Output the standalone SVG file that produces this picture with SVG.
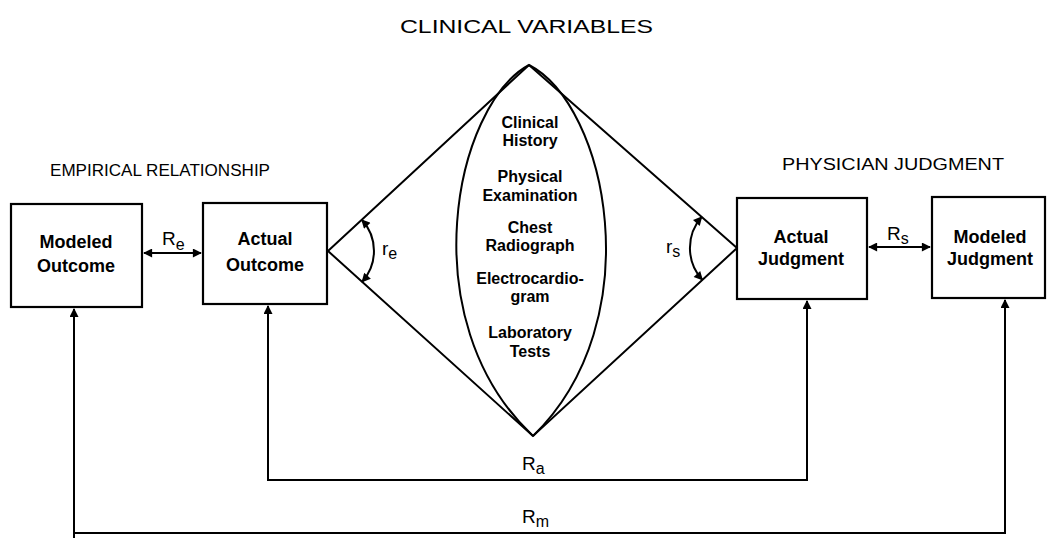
<svg xmlns="http://www.w3.org/2000/svg" width="1052" height="538" viewBox="0 0 1052 538">
<style>
.box{fill:#fff;stroke:#000;stroke-width:2.2}
.ln{fill:none;stroke:#000;stroke-width:2}
.t{font-family:"Liberation Sans",Arial,sans-serif;font-size:18px;font-weight:bold;fill:#000;text-anchor:middle}
.lens{font-size:16px}
.h{font-family:"Liberation Sans",Arial,sans-serif;font-size:16px;fill:#000}
.r{font-family:"Liberation Sans",Arial,sans-serif;font-size:19px;fill:#000}
.sub{font-size:16px}
</style>
<defs>
<marker id="ah" viewBox="0 0 10 10" refX="9" refY="5" markerWidth="11" markerHeight="9" markerUnits="userSpaceOnUse" orient="auto-start-reverse">
<path d="M0,0 L10,5 L0,10 Z" fill="#000"/>
</marker>
</defs>
<rect width="1052" height="538" fill="#fff"/>
<g id="titles">
<text class="h" x="400" y="33" textLength="253" lengthAdjust="spacingAndGlyphs" style="font-size:19px">CLINICAL VARIABLES</text>
<text class="h" x="50" y="176" textLength="220" lengthAdjust="spacingAndGlyphs">EMPIRICAL RELATIONSHIP</text>
<text class="h" x="782" y="170" textLength="222" lengthAdjust="spacingAndGlyphs">PHYSICIAN JUDGMENT</text>
</g>
<g id="clinical-variables">
<path class="ln" d="M529,65 L737,248 L533,436 L328,251 Z"/>
<path class="ln" d="M529,65 C455,105 410,320 533,436 M529,65 C607,105 652,320 533,436"/>
<text class="t lens" x="530" y="128">Clinical</text>
<text class="t lens" x="530" y="146">History</text>
<text class="t lens" x="530" y="182">Physical</text>
<text class="t lens" x="530" y="201">Examination</text>
<text class="t lens" x="530" y="233">Chest</text>
<text class="t lens" x="530" y="251">Radiograph</text>
<text class="t lens" x="530" y="284">Electrocardio-</text>
<text class="t lens" x="530" y="302">gram</text>
<text class="t lens" x="530" y="338">Laboratory</text>
<text class="t lens" x="530" y="357">Tests</text>
</g>
<g id="modeled-outcome">
<rect class="box" x="11" y="204" width="131" height="103"/>
<text class="t" x="76" y="248">Modeled</text>
<text class="t" x="76" y="272">Outcome</text>
</g>
<g id="actual-outcome">
<rect class="box" x="203" y="203" width="124" height="101"/>
<text class="t" x="265" y="245">Actual</text>
<text class="t" x="265" y="271">Outcome</text>
</g>
<g id="actual-judgment">
<rect class="box" x="737" y="198" width="130" height="101"/>
<text class="t" x="801" y="243">Actual</text>
<text class="t" x="801" y="265">Judgment</text>
</g>
<g id="modeled-judgment">
<rect class="box" x="932" y="197" width="113" height="101"/>
<text class="t" x="990" y="243">Modeled</text>
<text class="t" x="990" y="265">Judgment</text>
</g>
<g id="connectors">
<path class="ln" d="M144,253 H201" marker-start="url(#ah)" marker-end="url(#ah)"/>
<path class="ln" d="M869,247 H930" marker-start="url(#ah)" marker-end="url(#ah)"/>
<path class="ln" d="M361.8,219.8 A46,46 0 0 1 362.1,281.8" marker-start="url(#ah)" marker-end="url(#ah)"/>
<path class="ln" d="M701.7,216.9 A47,47 0 0 0 702.4,279.9" marker-start="url(#ah)" marker-end="url(#ah)"/>
<path class="ln" d="M268,306 V480 H807 V301" marker-start="url(#ah)" marker-end="url(#ah)"/>
<path class="ln" d="M74,309 V538 M74,533 H1005 V300" marker-start="url(#ah)" marker-end="url(#ah)"/>
</g>
<g id="labels">
<text class="r" x="162" y="245">R<tspan class="sub" dy="5">e</tspan></text>
<text class="r" x="887" y="240">R<tspan class="sub" dy="4">s</tspan></text>
<text class="r" x="382" y="255">r<tspan class="sub" dy="4">e</tspan></text>
<text class="r" x="666" y="253">r<tspan class="sub" dy="4">s</tspan></text>
<text class="r" x="522" y="470">R<tspan class="sub" dy="4">a</tspan></text>
<text class="r" x="522" y="523">R<tspan class="sub" dy="4">m</tspan></text>
</g>
</svg>
